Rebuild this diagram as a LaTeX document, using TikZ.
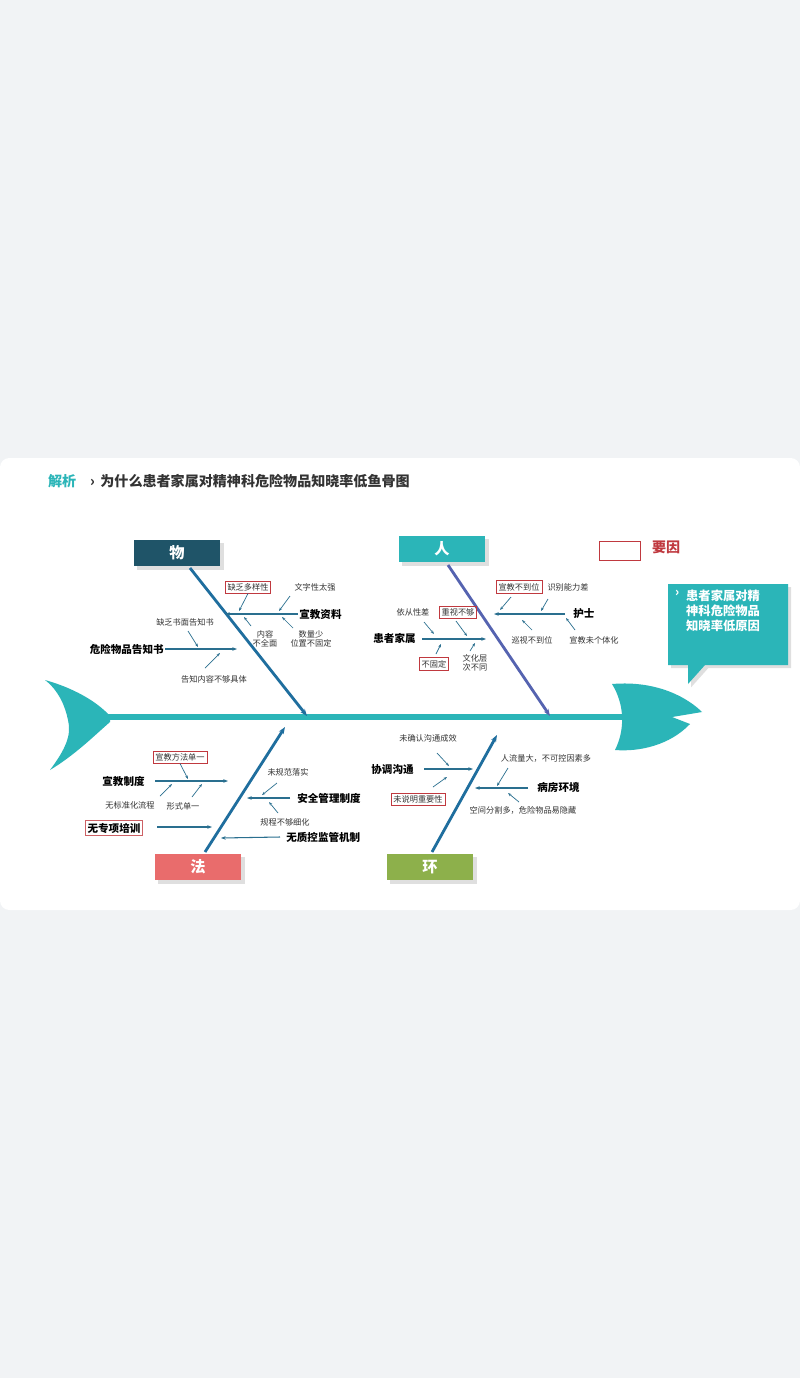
\documentclass[tikz,border=0pt]{standalone}
\usepackage{fontspec}
\setmainfont{Noto Sans CJK SC}
\usepackage{tikz}
\usetikzlibrary{arrows.meta,positioning,shadows}
\definecolor{bgrau}{HTML}{F1F3F5}
\definecolor{tuerkis}{HTML}{2BB5B8}
\definecolor{dunkelblau}{HTML}{1F5468}
\definecolor{knochen}{HTML}{1F6E9E}
\definecolor{lila}{HTML}{5563B0}
\definecolor{lachs}{HTML}{E96C6C}
\definecolor{gruen}{HTML}{8DB04B}
\definecolor{rot}{HTML}{C0393F}
\definecolor{pfeil}{HTML}{2A6F8F}
\tikzset{
  klein/.style={font=\fontsize{7}{8}\selectfont,color=black!80,align=center,inner sep=1pt},
  haupt/.style={font=\fontsize{9}{10}\selectfont\bfseries,inner sep=1pt},
  rahmen/.style={draw=rot,line width=0.6pt,inner sep=2pt},
  kopf/.style={minimum width=2.6cm,minimum height=0.8cm,font=\fontsize{13}{14}\selectfont\bfseries,text=white,drop shadow={opacity=0.25}},
  ast/.style={draw=pfeil,line width=0.9pt,-{Stealth[length=4pt]}},
  zweig/.style={draw=pfeil,line width=0.6pt,-{Stealth[length=3pt]}}
}
\begin{document}
\begin{tikzpicture}[x=0.03cm,y=-0.03cm]
  \fill[bgrau] (0,0) rectangle (800,1378);
  \fill[white,rounded corners=8pt] (0,458) rectangle (800,910);
  % Titel
  \node[anchor=west,font=\fontsize{12}{13}\selectfont\bfseries,color=tuerkis] (titel-a) at (44,481) {解析};
  \node[anchor=west,font=\fontsize{12}{13}\selectfont\bfseries,color=black!80] (titel-b) at (86,481) {›\,\ 为什么患者家属对精神科危险物品知晓率低鱼骨图};
  % Schwanz und Kopf
  \fill[tuerkis] (45,680) .. controls (80,690) and (100,705) .. (110,716)
    -- (110,722) .. controls (95,735) and (75,755) .. (50,770)
    .. controls (65,750) and (72,735) .. (68,720)
    .. controls (65,705) and (58,690) .. (45,680) -- cycle;
  \fill[tuerkis] (612,684) .. controls (660,680) and (690,700) .. (702,712)
    -- (672,717) -- (690,724) .. controls (670,745) and (640,752) .. (615,750)
    .. controls (625,730) and (625,705) .. (612,684) -- cycle;
  % Gräte
  \draw[tuerkis,line width=5pt] (68,717) -- (625,717);
  % Kategorien
  \node[kopf,fill=dunkelblau] (wu) at (177,553) {物};
  \node[kopf,fill=tuerkis] (ren) at (442,549) {人};
  \node[kopf,fill=lachs] (fa) at (198,867) {法};
  \node[kopf,fill=gruen] (huan) at (430,867) {环};
  \coordinate (wu-ende) at (307,716);
  \coordinate (ren-ende) at (550,716);
  \coordinate (fa-ende) at (285,727);
  \coordinate (huan-ende) at (497,735);
  \draw[knochen,line width=2.4pt,-{Stealth[length=6pt]}] (190,568) -- (wu-ende);
  \draw[lila,line width=2.4pt,-{Stealth[length=6pt]}] (448,565) -- (ren-ende);
  \draw[knochen,line width=2.4pt,-{Stealth[length=6pt]}] (205,852) -- (fa-ende);
  \draw[knochen,line width=2.4pt,-{Stealth[length=6pt]}] (432,852) -- (huan-ende);
  % Legende
  \node[rahmen,minimum width=1.25cm,minimum height=0.55cm] (legende) at (620,551) {};
  \node[anchor=west,font=\fontsize{12}{13}\selectfont\bfseries,color=rot] (yaoyin) at (648,547) {要因};
  % Sprechblase
  \fill[tuerkis,drop shadow={opacity=0.25}] (668,584) -- (788,584) -- (788,665) -- (705,665) -- (688,684) -- (688,665) -- (668,665) -- cycle;
  \node[anchor=north west,font=\fontsize{10.5}{12.5}\selectfont\bfseries,text=white] (pfeilchen) at (671,586) {›};
  \node[anchor=north west,font=\fontsize{10.5}{12.5}\selectfont\bfseries,text=white,align=left] (ziel) at (682,586) {患者家属对精\\神科危险物品\\知晓率低原因};

  % --- 物 ---
  \node[haupt,anchor=west] (xjzl) at (298,614) {宣教资料};
  \coordinate (xjzl-end) at (225,614);
  \draw[ast] (xjzl.west) -- (xjzl-end);
  \node[klein,rahmen] (dyx) at (248,587) {缺乏多样性};
  \node[klein] (wzx) at (315,587) {文字性太强};
  \node[klein] (nr) at (265,639) {内容\\不全面};
  \node[klein] (slx) at (311,639) {数量少\\位置不固定};
  \draw[zweig] (dyx.south) -- (239,611);
  \draw[zweig] (290,596) -- (279,611);
  \draw[zweig] (251,626) -- (244,617);
  \draw[zweig] (293,628) -- (282,617);
  \node[haupt,anchor=east] (gzs) at (165,649) {危险物品告知书};
  \coordinate (gzs-end) at (237,649);
  \draw[ast] (gzs.east) -- (gzs-end);
  \node[klein] (smgz) at (185,622) {缺乏书面告知书};
  \node[klein] (gzjt) at (214,679) {告知内容不够具体};
  \draw[zweig] (188,631) -- (198,647);
  \draw[zweig] (205,668) -- (220,653);

  % --- 人 ---
  \node[haupt,anchor=west] (hushi) at (572,614) {护士};
  \coordinate (hushi-end) at (494,614);
  \draw[ast] (565,614) -- (hushi-end);
  \node[klein,rahmen] (bdw) at (519,587) {宣教不到位};
  \node[klein] (sbnl) at (568,587) {识别能力差};
  \node[klein] (xsbdw) at (532,640) {巡视不到位};
  \node[klein] (gth) at (594,640) {宣教未个体化};
  \draw[zweig] (511,597) -- (500,610);
  \draw[zweig] (548,599) -- (541,611);
  \draw[zweig] (532,630) -- (522,620);
  \draw[zweig] (575,630) -- (566,618);
  \node[haupt,anchor=east] (jiashu) at (417,638) {患者家属};
  \coordinate (jiashu-end) at (486,639);
  \draw[ast] (422,639) -- (jiashu-end);
  \node[klein] (ycx) at (413,612) {依从性差};
  \node[klein,rahmen] (zsbg) at (458,612) {重视不够};
  \node[klein,rahmen] (bgd) at (434,664) {不固定};
  \node[klein] (whc) at (475,663) {文化层\\次不同};
  \draw[zweig] (424,622) -- (434,634);
  \draw[zweig] (456,621) -- (467,636);
  \draw[zweig] (436,654) -- (441,644);
  \draw[zweig] (470,651) -- (475,643);

  % --- 法 ---
  \node[haupt,anchor=east] (xjzd) at (146,781) {宣教制度};
  \coordinate (xjzd-end) at (228,781);
  \draw[ast] (155,781) -- (xjzd-end);
  \node[klein,rahmen] (ffdy) at (180,757) {宣教方法单一};
  \node[klein] (bzh) at (130,805) {无标准化流程};
  \node[klein] (xsdy) at (183,806) {形式单一};
  \draw[zweig] (ffdy.south) -- (188,779);
  \draw[zweig] (160,796) -- (172,784);
  \draw[zweig] (192,797) -- (202,784);
  \node[haupt,rahmen,draw=rot!80] (zxpx) at (114,828) {无专项培训};
  \coordinate (zxpx-end) at (212,827);
  \draw[ast] (157,827) -- (zxpx-end);
  \node[haupt,anchor=west] (aqgl) at (296,798) {安全管理制度};
  \coordinate (aqgl-end) at (247,798);
  \draw[ast] (290,798) -- (aqgl-end);
  \node[klein] (gfls) at (288,772) {未规范落实};
  \node[klein] (gcxh) at (285,822) {规程不够细化};
  \draw[zweig] (277,783) -- (262,795);
  \draw[zweig] (278,813) -- (269,802);
  \node[haupt,anchor=west] (zkjg) at (285,837) {无质控监管机制};
  \coordinate (zkjg-end) at (221,838);
  \draw[ast] (280,837) -- (zkjg-end);

  % --- 环 ---
  \node[haupt,anchor=east] (xtgt) at (415,769) {协调沟通};
  \coordinate (xtgt-end) at (473,769);
  \draw[ast] (424,769) -- (xtgt-end);
  \node[klein] (gtcx) at (428,738) {未确认沟通成效};
  \node[klein,rahmen] (zyx) at (418,799) {未说明重要性};
  \draw[zweig] (437,753) -- (449,766);
  \draw[zweig] (433,787) -- (447,777);
  \node[haupt,anchor=west] (bfhj) at (536,788) {病房环境};
  \coordinate (bfhj-end) at (475,788);
  \draw[ast] (528,788) -- (bfhj-end);
  \node[klein] (rll) at (546,758) {人流量大，不可控因素多};
  \node[klein] (kjfg) at (523,810) {空间分割多，危险物品易隐藏};
  \draw[zweig] (508,768) -- (497,786);
  \draw[zweig] (519,802) -- (508,793);
\end{tikzpicture}
\end{document}
